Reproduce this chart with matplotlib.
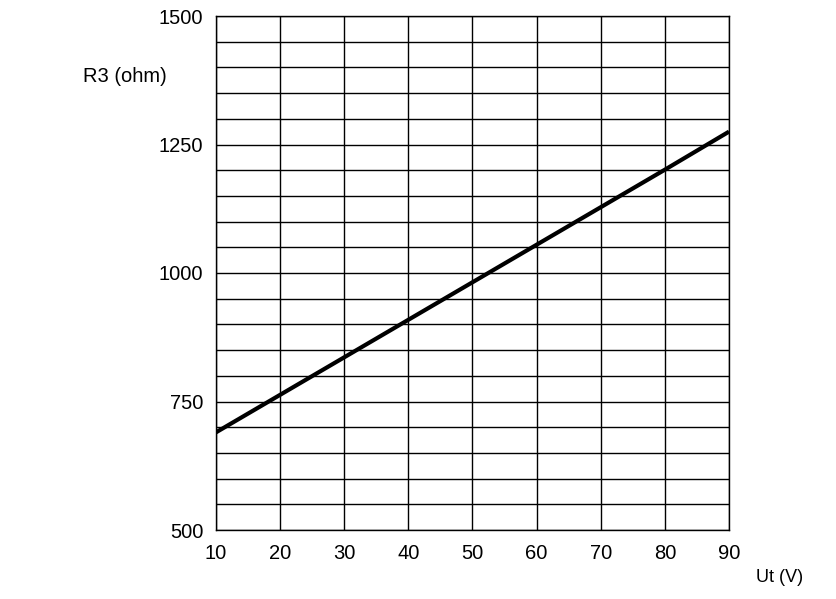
import matplotlib
matplotlib.use('Agg')
import matplotlib.pyplot as plt
import numpy as np

# Ut (V) vs R3 (ohm)
ut = [10, 20, 30, 40, 50, 60, 70, 80, 90]
r3 = [690, 763, 836, 909, 982, 1055, 1128, 1201, 1275]

x_ticks = [10, 20, 30, 40, 50, 60, 70, 80, 90]
y_ticks = [500, 750, 1000, 1250, 1500]

plt.rcParams['font.family'] = ['Liberation Sans', 'DejaVu Sans']

fig = plt.figure(figsize=(8.37, 5.99), dpi=100)
ax = fig.add_axes([216/837, 69/599, 513/837, 514/599])

ax.plot(ut, r3, color='black', lw=3, solid_capstyle='butt')

ax.set_xlim(10, 90)
ax.set_ylim(500, 1500)
ax.set_xticks(x_ticks)
ax.set_yticks(y_ticks)
ax.set_xticks(np.arange(10, 91, 10), minor=True)
ax.set_yticks(np.arange(500, 1501, 50), minor=True)
ax.grid(True, which='both', color='black', lw=1)
ax.tick_params(which='both', length=0, labelsize=14.5, colors='black')
ax.tick_params(axis='y', pad=9)
ax.tick_params(axis='x', pad=10)
for s in ax.spines.values():
    s.set_color('black')
    s.set_linewidth(1)

fig.text(125/837, 1 - 77/599, 'R3 (ohm)', fontsize=14.5, ha='center', va='center')
fig.text(780/837, 1 - 578/599, 'Ut (V)', fontsize=13, ha='center', va='center')

fig.savefig('out.png', dpi=100)
